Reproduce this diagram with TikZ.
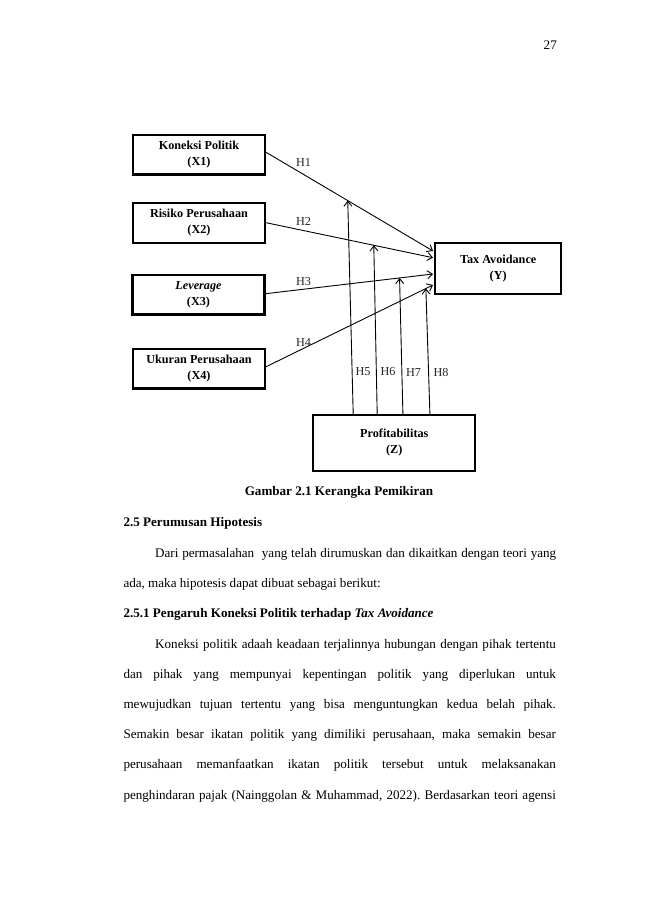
\documentclass[tikz,border=0pt]{standalone}
\usepackage{fontspec}
\setmainfont{Liberation Serif}
\usetikzlibrary{arrows.meta,calc}
\begin{document}
\frenchspacing
\begin{tikzpicture}[x=1pt,y=-1pt,
  varbox/.style={draw=black,line width=2.2pt,fill=white,align=center,
    inner sep=0pt,font=\fontsize{12.2}{16}\selectfont\bfseries},
  link/.style={line width=0.9pt,-{Straight Barb[length=5pt,width=8pt,line width=0.9pt]}},
  hlab/.style={font=\fontsize{12.2}{14}\selectfont,text=black!85,inner sep=0pt,anchor=center},
  body/.style={font=\fontsize{13.1}{15}\selectfont,inner sep=0pt,anchor=base west},
  bodyb/.style={font=\fontsize{13.1}{15}\selectfont\bfseries,inner sep=0pt,anchor=base west}]
\useasboundingbox[fill=white] (0,0) rectangle (650,919);

% page number
\node[body,anchor=base east] (pg) at (557,49.5) {27};

% boxes
\node[varbox,minimum width=132pt,minimum height=39.5pt] (X1) at (199,154.7) {Koneksi Politik\\(X1)};
\node[varbox,minimum width=132pt,minimum height=39.5pt] (X2) at (199,223) {Risiko Perusahaan\\(X2)};
\node[varbox,minimum width=132pt,minimum height=39.5pt] (X3) at (198.5,294.7) {\textit{Leverage}\\(X3)};
\node[varbox,minimum width=132pt,minimum height=39.5pt] (X4) at (199,368.7) {Ukuran Perusahaan\\(X4)};
\node[varbox,minimum width=125.7pt,minimum height=51pt] (Y) at (498.2,268.8) {Tax Avoidance\\(Y)};
\node[varbox,minimum width=162pt,minimum height=55.7pt] (Z) at (394.3,442.8) {Profitabilitas\\(Z)};

% end points on Y and start points on Z
\coordinate (y1) at ($(Y.west)+(-1.2,-17.8)$);
\coordinate (y2) at ($(Y.west)+(-1.2,-11.1)$);
\coordinate (y3) at ($(Y.west)+(-1.2,5.2)$);
\coordinate (y4) at ($(Y.west)+(-1.2,16.2)$);
\coordinate (z5) at ($(Z.north west)+(41,0)$);
\coordinate (z6) at ($(Z.north west)+(65,0)$);
\coordinate (z7) at ($(Z.north west)+(90.7,0)$);
\coordinate (z8) at ($(Z.north west)+(117.7,0)$);

% direct paths
\draw[link] ($(X1.east)+(0,-2.4)$) -- coordinate[pos=0.489] (m1) (y1);
\draw[link] ($(X2.east)+(0,-0.3)$) -- coordinate[pos=0.645] (m2) (y2);
\draw[link] ($(X3.east)+(0,-1)$) -- coordinate[pos=0.800] (m3) (y3);
\draw[link] ($(X4.east)+(0,-2)$) -- coordinate[pos=0.957] (m4) (y4);

% moderating paths
\draw[link] (z5) -- (m1);
\draw[link] (z6) -- (m2);
\draw[link] (z7) -- (m3);
\draw[link] (z8) -- (m4);

% hypothesis labels
\node[hlab] (H1) at (303.5,162) {H1};
\node[hlab] (H2) at (303.5,221) {H2};
\node[hlab] (H3) at (303.5,282) {H3};
\node[hlab] (H4) at (303.5,342) {H4};
\node[hlab] (H5) at (363,372) {H5};
\node[hlab] (H6) at (388,372) {H6};
\node[hlab] (H7) at (413.5,372) {H7};
\node[hlab] (H8) at (441,372) {H8};

% caption and text
\node[bodyb,anchor=base] (cap) at (339,495.3) {Gambar 2.1 Kerangka Pemikiran};
\node[bodyb] (s25) at (123.3,526.5) {2.5 Perumusan Hipotesis};
\node[body] (l1) at (155,557.5) {\makebox[401pt][s]{Dari permasalahan\ \ yang telah dirumuskan dan dikaitkan dengan teori yang}};
\node[body] (l2) at (123.3,587.7) {ada, maka hipotesis dapat dibuat sebagai berikut:};
\node[bodyb] (s251) at (123.3,617.9) {2.5.1 Pengaruh Koneksi Politik terhadap \textit{Tax Avoidance}};
\node[body] (l3) at (155,648.1) {\makebox[400.7pt][s]{Koneksi politik adaah keadaan terjalinnya hubungan dengan pihak tertentu}};
\node[body] (l4) at (123.3,678.3) {\makebox[432.4pt][s]{dan pihak yang mempunyai kepentingan politik yang diperlukan untuk}};
\node[body] (l5) at (123.3,708.5) {\makebox[432.4pt][s]{mewujudkan tujuan tertentu yang bisa menguntungkan kedua belah pihak.}};
\node[body] (l6) at (123.3,738.7) {\makebox[432.4pt][s]{Semakin besar ikatan politik yang dimiliki perusahaan, maka semakin besar}};
\node[body] (l7) at (123.3,768.9) {\makebox[432.4pt][s]{perusahaan memanfaatkan ikatan politik tersebut untuk melaksanakan}};
\node[body] (l8) at (123.3,799.1) {\makebox[432.4pt][s]{penghindaran pajak (Nainggolan \& Muhammad, 2022). Berdasarkan teori agensi}};
\end{tikzpicture}
\end{document}
